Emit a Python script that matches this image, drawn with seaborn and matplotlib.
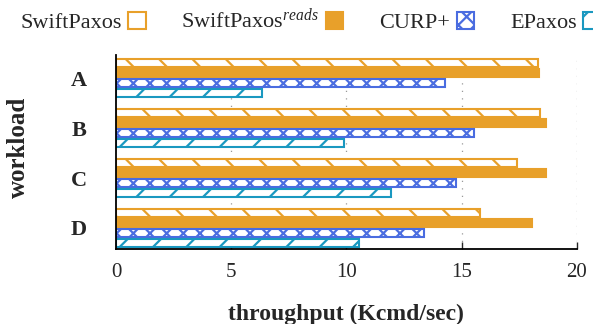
import matplotlib
matplotlib.use("Agg")
import matplotlib.pyplot as plt
import pandas as pd
import seaborn as sns

# throughput per workload (Kcmd/sec)
workloads = ["A", "B", "C", "D"]
protocols = ["SwiftPaxos", "SwiftPaxos$^{reads}$", "CURP+", "EPaxos"]
swiftpaxos = [18.3, 18.4, 17.4, 15.8]
swiftpaxos_reads = [18.35, 18.65, 18.65, 18.05]
curp = [14.3, 15.55, 14.75, 13.35]
epaxos = [6.35, 9.9, 11.95, 10.55]

colors = ["#E8A02A", "#E8A02A", "#4A6CE0", "#1A98C0"]
hatches = ["\\", "", "xx", "/"]
filled = [False, True, False, False]

rows = []
for proto, vals in zip(protocols, [swiftpaxos, swiftpaxos_reads, curp, epaxos]):
    for w, v in zip(workloads, vals):
        rows.append({"workload": w, "protocol": proto, "throughput": v})
df = pd.DataFrame(rows)

sns.set_style("white")
plt.rcParams["font.family"] = ["Liberation Serif", "DejaVu Serif"]
plt.rcParams["mathtext.fontset"] = "custom"
plt.rcParams["mathtext.rm"] = "Liberation Serif"
plt.rcParams["mathtext.it"] = "Liberation Serif:italic"
plt.rcParams["hatch.linewidth"] = 1.6

fig = plt.figure(figsize=(5.93, 3.24), dpi=100)
ax = fig.add_axes([0.1956, 0.2306, 0.7769, 0.5994])

sns.barplot(data=df, y="workload", x="throughput", hue="protocol",
            hue_order=protocols, order=workloads, orient="h",
            palette=colors, gap=0.2, legend=False, ax=ax)

for cont, col, h, f in zip(ax.containers, colors, hatches, filled):
    for bar in cont:
        bar.set_facecolor(col if f else "white")
        bar.set_edgecolor(col)
        bar.set_hatch(h)
        bar.set_linewidth(1.5)

ax.set_xlim(0, 20)
ax.set_ylim(3.426, -0.46)
ax.set_xticks([0, 5, 10, 15, 20])
ax.tick_params(axis="x", direction="in", length=5, width=1, pad=10,
               labelsize=15, bottom=True)
ax.tick_params(axis="y", length=0, pad=21, labelsize=16)
for lab in ax.get_yticklabels():
    lab.set_fontweight("bold")

for v in [5, 10, 15, 20]:
    ax.axvline(v, color="#999999", lw=0.9, ls=(0, (1, 5)), zorder=0)

for s in ["top", "right"]:
    ax.spines[s].set_visible(False)
for s in ["left", "bottom"]:
    ax.spines[s].set_color("black")
    ax.spines[s].set_linewidth(1.3)

ax.set_xlabel("")
ax.set_ylabel("")
fig.text(346 / 593, 1 - 320 / 324, "throughput (Kcmd/sec)", ha="center",
         va="baseline", fontsize=17, fontweight="bold")
fig.text(18 / 593, 1 - 147 / 324, "workload", rotation=90, ha="center",
         va="center", fontsize=18, fontweight="bold")

fig.legend(list(ax.containers), protocols, loc="upper left",
           bbox_to_anchor=(20 / 593, 1 - 8 / 324), ncol=4, frameon=False,
           markerfirst=False, fontsize=16, handlelength=0.8,
           handleheight=0.75, handletextpad=0.3, columnspacing=1.6,
           borderpad=0, borderaxespad=0)

fig.savefig("out.png", dpi=100)
